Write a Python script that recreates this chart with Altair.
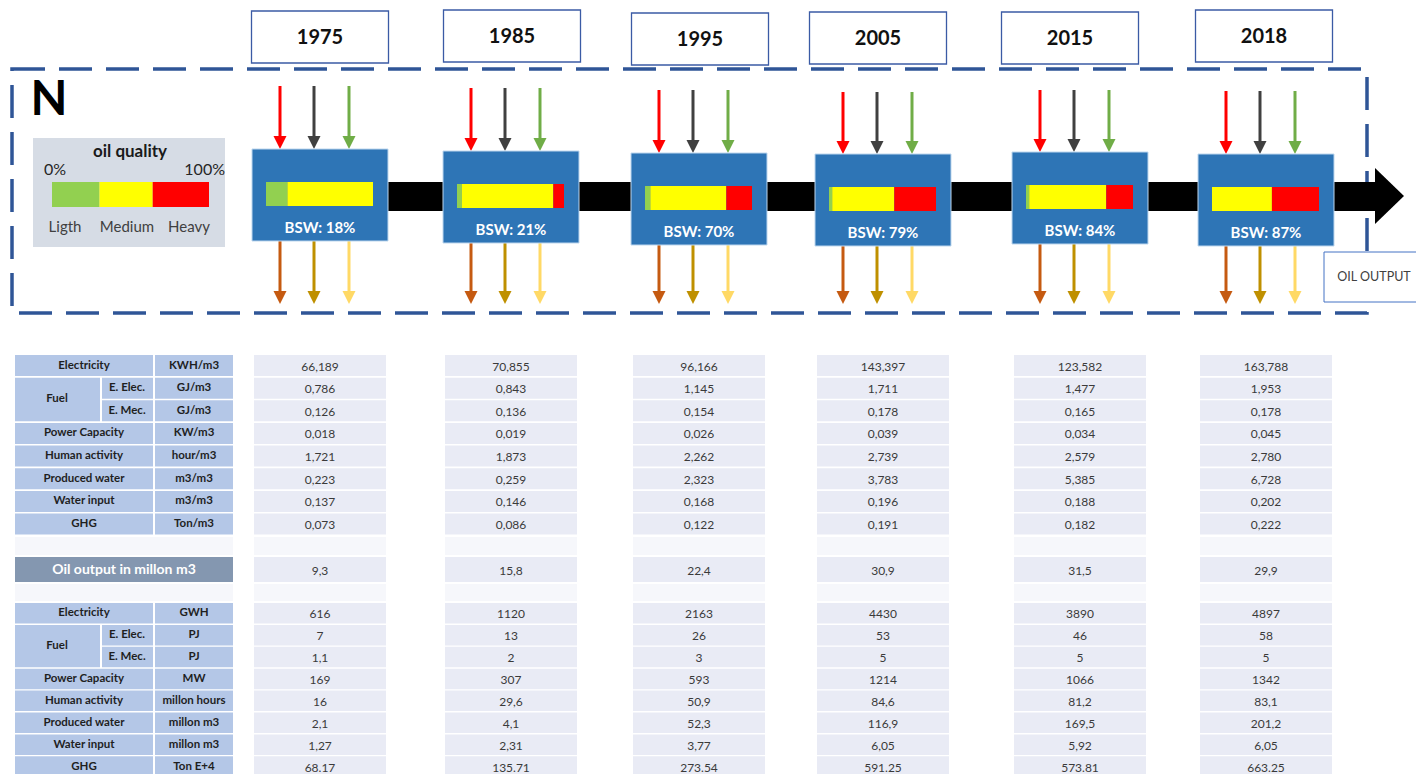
import altair as alt
import pandas as pd

# ---------------- data ----------------
years = ["1975", "1985", "1995", "2005", "2015", "2018"]
bsw = [18, 21, 70, 79, 84, 87]
quality_names = ["Ligth", "Medium", "Heavy"]
light = [0.20, 0.045, 0.05, 0.03, 0.03, 0.0]
medium = [0.80, 0.855, 0.71, 0.58, 0.72, 0.56]
heavy = [0.0, 0.10, 0.24, 0.39, 0.25, 0.44]

row_names = ["Electricity", "Fuel", "Fuel", "Power Capacity", "Human activity",
             "Produced water", "Water input", "GHG"]
row_sub = ["", "E. Elec.", "E. Mec.", "", "", "", "", ""]
units_per_m3 = ["KWH/m3", "GJ/m3", "GJ/m3", "KW/m3", "hour/m3", "m3/m3", "m3/m3", "Ton/m3"]
units_total = ["GWH", "PJ", "PJ", "MW", "millon hours", "millon m3", "millon m3", "Ton  E+4"]

electricity_m3 = [66.189, 70.855, 96.166, 143.397, 123.582, 163.788]
fuel_elec_m3 = [0.786, 0.843, 1.145, 1.711, 1.477, 1.953]
fuel_mec_m3 = [0.126, 0.136, 0.154, 0.178, 0.165, 0.178]
power_m3 = [0.018, 0.019, 0.026, 0.039, 0.034, 0.045]
human_m3 = [1.721, 1.873, 2.262, 2.739, 2.579, 2.780]
prod_water_m3 = [0.223, 0.259, 2.323, 3.783, 5.385, 6.728]
water_in_m3 = [0.137, 0.146, 0.168, 0.196, 0.188, 0.202]
ghg_m3 = [0.073, 0.086, 0.122, 0.191, 0.182, 0.222]

oil_output = [9.3, 15.8, 22.4, 30.9, 31.5, 29.9]

electricity_tot = [616, 1120, 2163, 4430, 3890, 4897]
fuel_elec_tot = [7, 13, 26, 53, 46, 58]
fuel_mec_tot = [1.1, 2, 3, 5, 5, 5]
power_tot = [169, 307, 593, 1214, 1066, 1342]
human_tot = [16, 29.6, 50.9, 84.6, 81.2, 83.1]
prod_water_tot = [2.1, 4.1, 52.3, 116.9, 169.5, 201.2]
water_in_tot = [1.27, 2.31, 3.77, 6.05, 5.92, 6.05]
ghg_tot = [68.17, 135.71, 273.54, 591.25, 573.81, 663.25]

# ---------------- layout (pixels) ----------------
FONT = "Lato"
col_center = [320, 511, 699, 883, 1080, 1266]
box_top = [149, 151, 153, 154, 152, 154]
arrow_start = [86, 88, 90, 92, 90, 91]
ybox_center = [320, 512, 700, 878, 1070, 1264]
ybox_top = [11, 10, 13, 12, 12, 10]
BOX_W, BOX_H = 136, 92
CELL_W = 132
in_colors = ["#ff0000", "#404040", "#70ad47"]
out_colors = ["#c55a11", "#bf9000", "#ffd966"]
arrow_off = [-40, -6, 29]
q_colors = ["#92d050", "#ffff00", "#ff0000"]

SX = alt.Scale(domain=[8, 1416], nice=False, zero=False)
SY = alt.Scale(domain=[8, 774], nice=False, zero=False, reverse=True)


def X(f="x"):
    return alt.X(f"{f}:Q", scale=SX, axis=None)


def Y(f="y"):
    return alt.Y(f"{f}:Q", scale=SY, axis=None)


def rects(rows, **mk):
    df = pd.DataFrame(rows)
    enc = dict(x=X(), x2="x2:Q", y=Y(), y2="y2:Q")
    if "c" in df.columns:
        enc["color"] = alt.Color("c:N", scale=None)
    return alt.Chart(df).mark_rect(**mk).encode(**enc)


def texts(rows, **mk):
    df = pd.DataFrame(rows)
    enc = dict(x=X(), y=Y(), text="t:N")
    if "c" in df.columns:
        enc["color"] = alt.Color("c:N", scale=None)
    mk.setdefault("font", FONT)
    mk.setdefault("baseline", "middle")
    return alt.Chart(df).mark_text(**mk).encode(**enc)


layers = []

# dashed frame
layers.append(rects([dict(x=12, x2=1367, y=69, y2=313)], fillOpacity=0,
                    stroke="#2f5597", strokeWidth=3.5, strokeDash=[33, 14]))

# black flow arrow
layers.append(rects([dict(x=330, x2=1377, y=182, y2=211)], color="#000000"))
head = pd.DataFrame([dict(x=1375, y=168, y2=224), dict(x=1404, y=196, y2=196)])
layers.append(alt.Chart(head).mark_area(color="#000000").encode(
    x=X(), y=Y(), y2="y2:Q"))

# year label boxes
layers.append(rects([dict(x=c - 68.5, x2=c + 68.5, y=t, y2=t + 52)
                     for c, t in zip(ybox_center, ybox_top)],
                    color="white", stroke="#3b5ba5", strokeWidth=1.3))
layers.append(texts([dict(x=c, y=t + 27, t=yr)
                     for c, t, yr in zip(ybox_center, ybox_top, years)],
                    fontSize=20, fontWeight="bold", color="#111111"))

# input / output arrows
rule_rows, head_rows = [], []
for c, t, s in zip(col_center, box_top, arrow_start):
    for off, ci, co in zip(arrow_off, in_colors, out_colors):
        rule_rows.append(dict(x=c + off, y=s, y2=t - 10, c=ci))
        head_rows.append(dict(x=c + off, y=t - 6.5, c=ci))
        rule_rows.append(dict(x=c + off, y=t + BOX_H, y2=296, c=co))
        head_rows.append(dict(x=c + off, y=297.5, c=co))
layers.append(alt.Chart(pd.DataFrame(rule_rows)).mark_rule(strokeWidth=3).encode(
    x=X(), y=Y(), y2="y2:Q", color=alt.Color("c:N", scale=None)))
layers.append(alt.Chart(pd.DataFrame(head_rows)).mark_point(
    shape="M-1,-1L1,-1L0,1Z", filled=True, size=169, opacity=1, strokeWidth=0).encode(
    x=X(), y=Y(), color=alt.Color("c:N", scale=None)))

# process boxes
layers.append(rects([dict(x=c - BOX_W / 2, x2=c + BOX_W / 2, y=t, y2=t + BOX_H)
                     for c, t in zip(col_center, box_top)],
                    color="#2e75b6", stroke="#bdd7ee", strokeWidth=1))

# oil quality bars inside boxes
qrows = []
for c, t, fr in zip(col_center, box_top, zip(light, medium, heavy)):
    x0 = c - 54
    cum = 0.0
    for f, col in zip(fr, q_colors):
        if f > 0:
            qrows.append(dict(x=x0 + cum * 107, x2=x0 + (cum + f) * 107,
                              y=t + 33, y2=t + 57, c=col))
        cum += f
layers.append(rects(qrows))
layers.append(texts([dict(x=c, y=t + 79, t=f"BSW: {b}%")
                     for c, t, b in zip(col_center, box_top, bsw)],
                    fontSize=15, fontWeight="bold", color="#ffffff"))

# OIL OUTPUT box
layers.append(rects([dict(x=1324, x2=1430, y=252, y2=302)], color="white",
                    stroke="#4472c4", strokeWidth=1))
layers.append(texts([dict(x=1374, y=277, t="OIL OUTPUT")], fontSize=12.5, color="#404040"))

# N and legend
layers.append(texts([dict(x=49, y=101, t="N")], fontSize=48, fontWeight="bold", color="#000000"))
layers.append(rects([dict(x=33, x2=225, y=138, y2=247)], color="#d6dce5"))
layers.append(texts([dict(x=130, y=152, t="oil quality")], fontSize=17,
                    fontWeight="bold", color="#1a1a1a"))
layers.append(texts([dict(x=44, y=170, t="0%")], fontSize=16, align="left", color="#262626"))
layers.append(texts([dict(x=225, y=170, t="100%")], fontSize=16, align="right", color="#262626"))
leg_x = [52, 99.5, 152.7, 209]
layers.append(rects([dict(x=leg_x[i], x2=leg_x[i + 1], y=182, y2=207, c=q_colors[i])
                     for i in range(3)]))
layers.append(texts([dict(x=xx, y=227, t=n) for xx, n in zip([65, 127, 189], quality_names)],
                    fontSize=15, color="#404040"))


# ---------------- tables ----------------
def fmt3(v):
    return f"{v:.3f}".replace(".", ",")


def fmtc(v):
    return str(v).replace(".", ",")


upper_vals = [electricity_m3, fuel_elec_m3, fuel_mec_m3, power_m3, human_m3,
              prod_water_m3, water_in_m3, ghg_m3]
lower_vals = [electricity_tot, fuel_elec_tot, fuel_mec_tot, power_tot, human_tot,
              prod_water_tot, water_in_tot, ghg_tot]
upper_txt = [[fmt3(v) for v in r] for r in upper_vals]
lower_txt = [[fmtc(v) for v in r] for r in lower_vals[:-1]] + [[str(v) for v in ghg_tot]]

label_cells, label_txt, val_cells, val_txt = [], [], [], []


def table(y0, units, txt, pitch, ch):
    for i in range(8):
        top = y0 + i * pitch
        mid = top + ch / 2
        if row_sub[i]:
            if i == 1:
                label_cells.append(dict(x=15, x2=100, y=top, y2=top + pitch + ch))
                label_txt.append(dict(x=57, y=top + (pitch + ch) / 2, t=row_names[i]))
            label_cells.append(dict(x=102, x2=153, y=top, y2=top + ch))
            label_txt.append(dict(x=127, y=mid, t=row_sub[i]))
        else:
            label_cells.append(dict(x=15, x2=153, y=top, y2=top + ch))
            label_txt.append(dict(x=84, y=mid, t=row_names[i]))
        label_cells.append(dict(x=155, x2=233, y=top, y2=top + ch))
        label_txt.append(dict(x=194, y=mid, t=units[i]))
        for c, v in zip(col_center, txt[i]):
            val_cells.append(dict(x=c - CELL_W / 2, x2=c + CELL_W / 2, y=top, y2=top + ch))
            val_txt.append(dict(x=c, y=mid + 1, t=v))


table(355, units_per_m3, upper_txt, 22.65, 21)
table(603, units_total, lower_txt, 21.9, 20.5)

# faint spreadsheet cells in the gaps
faint = []
for (a, b) in [(537, 555), (584, 601)]:
    faint.append(dict(x=15, x2=233, y=a, y2=b))
    for c in col_center:
        faint.append(dict(x=c - CELL_W / 2, x2=c + CELL_W / 2, y=a, y2=b))
layers.append(rects(faint, color="#f6f7fb"))

# oil output row
layers.append(rects([dict(x=15, x2=233, y=557, y2=582)], color="#8497b0"))
layers.append(texts([dict(x=124, y=570, t="Oil output  in millon m3")], fontSize=14,
                    fontWeight="bold", color="#ffffff"))
for c, v in zip(col_center, oil_output):
    val_cells.append(dict(x=c - CELL_W / 2, x2=c + CELL_W / 2, y=557, y2=582))
    val_txt.append(dict(x=c, y=571, t=fmtc(v)))

layers.append(rects(label_cells, color="#b4c7e7"))
layers.append(rects(val_cells, color="#e9ebf5"))
layers.append(texts(label_txt, fontSize=11.5, fontWeight="bold", color="#1f1f1f"))
layers.append(texts(val_txt, fontSize=12, color="#3a3a3a"))

chart = alt.layer(*layers).properties(
    width=1408, height=766, padding=0,
    autosize=alt.AutoSizeParams(type="none")
).configure_view(stroke=None)

chart.save("out.html", embed_options={"renderer": "svg", "actions": False})
